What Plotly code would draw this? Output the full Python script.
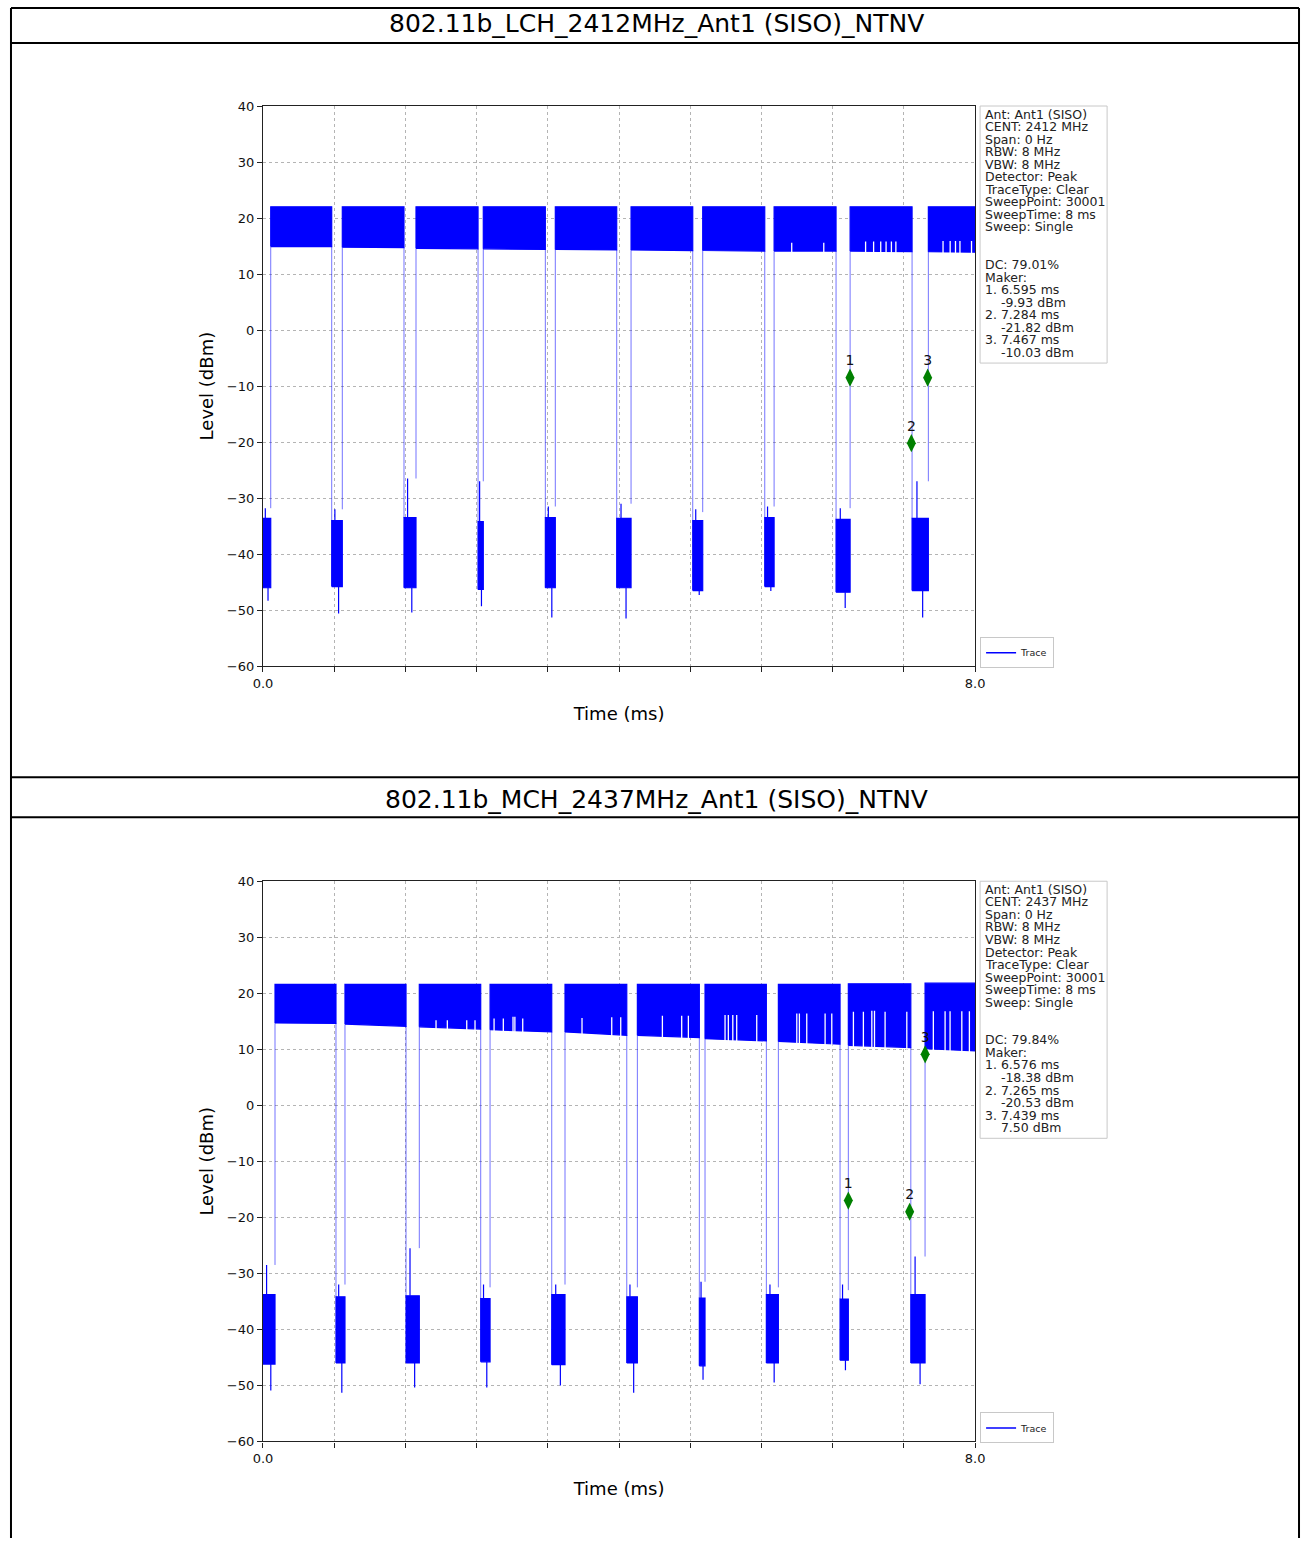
import plotly.graph_objects as go

W, H = 1310, 1546
PANEL_OFFSET = 775  # vertical pixel offset of the second panel (reference pixels)

# ---------------- data ----------------
titles = ["802.11b_LCH_2412MHz_Ant1 (SISO)_NTNV", "802.11b_MCH_2437MHz_Ant1 (SISO)_NTNV"]
center_freq = ["2412 MHz", "2437 MHz"]
duty_cycle = ["79.01%", "79.84%"]

# panel 1 (LCH) bursts, ms / dBm
p1_burst_start = [0.087, 0.891, 1.719, 2.475, 3.284, 4.135, 4.940, 5.742, 6.596, 7.475]
p1_burst_end = [0.772, 1.584, 2.416, 3.172, 3.974, 4.828, 5.637, 6.438, 7.292, 8.0]
p1_high_top = [22.0, 22.0, 22.0, 22.0, 22.0, 22.0, 22.0, 22.0, 22.0, 22.0]
p1_floor_start = [14.9, 14.8, 14.6, 14.5, 14.4, 14.3, 14.2, 14.1, 14.1, 14.0]
p1_floor_end = [14.9, 14.7, 14.5, 14.4, 14.3, 14.2, 14.1, 14.1, 14.0, 13.9]
# noise clusters between bursts (first one before the first burst)
p1_low_max = [-31.8, -32.0, -26.5, -27.0, -31.5, -31.0, -32.5, -31.5, -31.8, -27.0]
p1_low_top = [-33.6, -34.0, -33.5, -34.2, -33.5, -33.6, -34.0, -33.5, -33.8, -33.6]
p1_low_bottom = [-46.0, -45.8, -46.0, -46.3, -46.0, -46.0, -46.5, -45.8, -46.8, -46.5]
p1_low_min = [-48.3, -50.6, -50.4, -49.3, -51.3, -51.5, -47.3, -46.6, -49.6, -51.3]
# short dips inside the bursts (ms) and how high they reach (dBm)
p1_notch_time = [5.94, 6.30, 6.77, 6.86, 6.94, 7.00, 7.06, 7.11, 7.64, 7.72, 7.78, 7.83, 7.96]
p1_notch_top = [15.6, 15.6, 15.8, 15.8, 15.8, 15.8, 15.8, 15.8, 15.9, 15.9, 15.9, 15.9, 15.9]
p1_marker_time = [6.595, 7.284, 7.467]
p1_marker_value = [-9.93, -21.82, -10.03]
p1_marker_plot = [-8.5, -20.2, -8.5]

# panel 2 (MCH)
p2_burst_start = [0.135, 0.921, 1.756, 2.551, 3.393, 4.206, 4.966, 5.790, 6.576, 7.438]
p2_burst_end = [0.820, 1.607, 2.446, 3.244, 4.087, 4.902, 5.655, 6.483, 7.278, 8.0]
p2_high_top = [21.6, 21.6, 21.6, 21.6, 21.6, 21.6, 21.6, 21.6, 21.7, 21.8]
p2_floor_start = [14.7, 14.5, 14.0, 13.5, 13.1, 12.5, 11.9, 11.4, 10.7, 10.1]
p2_floor_end = [14.6, 14.1, 13.6, 13.1, 12.5, 12.1, 11.5, 10.9, 10.3, 9.7]
p2_low_max = [-28.5, -32.0, -25.5, -32.5, -32.0, -32.5, -31.5, -32.5, -33.0, -27.0]
p2_low_top = [-33.8, -34.2, -34.0, -34.5, -33.8, -34.2, -34.4, -33.8, -34.6, -33.8]
p2_low_bottom = [-46.2, -46.0, -46.0, -45.8, -46.3, -46.0, -46.5, -46.0, -45.5, -46.0]
p2_low_min = [-50.9, -51.3, -50.4, -50.4, -50.0, -51.3, -49.0, -49.5, -47.3, -49.8]
p2_notch_time = [1.944, 2.071, 2.289, 2.382, 2.596, 2.700, 2.809, 2.830, 2.918, 3.584,
                 3.918, 4.019, 4.487, 4.704, 4.779, 5.191, 5.228, 5.278, 5.322, 5.547,
                 5.997, 6.026, 6.109, 6.315, 6.390, 6.633, 6.745, 6.840, 6.870, 6.989,
                 7.233, 7.531, 7.663, 7.719, 7.851, 7.936]
p2_notch_top = [15.2, 15.2, 15.2, 15.2, 15.5, 15.5, 15.8, 15.8, 15.5, 15.6,
                15.7, 15.7, 16.0, 16.0, 16.0, 16.1, 16.1, 16.1, 16.1, 16.1,
                16.4, 16.4, 16.4, 16.4, 16.4, 16.7, 16.7, 16.9, 16.9, 16.7,
                16.7, 16.8, 16.8, 16.8, 16.8, 16.8]
p2_marker_time = [6.576, 7.265, 7.439]
p2_marker_value = [-18.38, -20.53, 7.50]
p2_marker_plot = [-17.0, -19.0, 9.1]

marker_labels = ["1", "2", "3"]
x_tick_values = [0.0, 0.8, 1.6, 2.4, 3.2, 4.0, 4.8, 5.6, 6.4, 7.2, 8.0]
x_tick_text = ["0.0", "", "", "", "", "", "", "", "", "", "8.0"]
y_tick_values = [40, 30, 20, 10, 0, -10, -20, -30, -40, -50, -60]

panels = [
    dict(start=p1_burst_start, end=p1_burst_end, top=p1_high_top, fs=p1_floor_start,
         fe=p1_floor_end, lx=p1_low_max, lt=p1_low_top, lb=p1_low_bottom, lm=p1_low_min,
         nt=p1_notch_time, nv=p1_notch_top,
         mt=p1_marker_time, mv=p1_marker_value, mp=p1_marker_plot),
    dict(start=p2_burst_start, end=p2_burst_end, top=p2_high_top, fs=p2_floor_start,
         fe=p2_floor_end, lx=p2_low_max, lt=p2_low_top, lb=p2_low_bottom, lm=p2_low_min,
         nt=p2_notch_time, nv=p2_notch_top,
         mt=p2_marker_time, mv=p2_marker_value, mp=p2_marker_plot),
]

FONT = "DejaVu Sans, Liberation Sans, Arial"
BLUE = "#0000ff"

# capture calibration (screen px -> figure px)
SX, PADX, SY, PADY = 0.9846, 10.2, 0.990, 7.1


def fx(x):
    return min(max(x / SX - PADX, 1.0), W - 1.0)


def fy(y):
    return min(max(y / SY - PADY, 1.0), H - 1.0)


def px(x):
    return fx(x) / W


def py(y):
    return 1 - fy(y) / H


def floor_at(p, t):
    for k in range(len(p["start"])):
        s, e = p["start"][k], p["end"][k]
        if s <= t <= e:
            return p["fs"][k] + (p["fe"][k] - p["fs"][k]) * (t - s) / (e - s)
    return None


fig = go.Figure()
shapes = []
annotations = []

for i, p in enumerate(panels):
    off = i * PANEL_OFFSET
    xa = "x" if i == 0 else "x2"
    ya = "y" if i == 0 else "y2"
    leg = "legend" if i == 0 else "legend2"

    # ----- polygons: bursts and noise clusters -----
    xs, ys = [], []
    n = len(p["start"])
    for k in range(n):
        s, e = p["start"][k], p["end"][k]
        xs += [s, s, e, e, s, None]
        ys += [p["fs"][k], p["top"][k], p["top"][k], p["fe"][k], p["fs"][k], None]
    gaps_a = [0.0] + p["end"][:-1]
    gaps_b = p["start"]
    for k in range(n):
        a, b = gaps_a[k], gaps_b[k]
        xs += [a, a, b, b, a, None]
        ys += [p["lb"][k], p["lt"][k], p["lt"][k], p["lb"][k], p["lb"][k], None]
    fig.add_trace(go.Scatter(x=xs, y=ys, mode="lines", fill="toself", fillcolor=BLUE,
                             line=dict(color=BLUE, width=1.2), showlegend=False,
                             hoverinfo="skip", xaxis=xa, yaxis=ya))

    # ----- white dips inside bursts -----
    nx, ny = [], []
    for t, v in zip(p["nt"], p["nv"]):
        f = floor_at(p, t)
        if f is None:
            continue
        nx += [t, t, None]
        ny += [f - 0.4, v, None]
    fig.add_trace(go.Scatter(x=nx, y=ny, mode="lines", line=dict(color="white", width=1.3),
                             showlegend=False, hoverinfo="skip", xaxis=xa, yaxis=ya))

    # ----- transition edges -----
    ex, ey = [], []
    for k in range(n):
        s, e = p["start"][k], p["end"][k]
        ex += [s, s, None]
        ey += [p["lx"][k], p["fs"][k], None]
        if k + 1 < n:
            ex += [e, e, None]
            ey += [p["fe"][k], p["lt"][k + 1], None]
    fig.add_trace(go.Scatter(x=ex, y=ey, mode="lines", line=dict(color="rgba(0,0,255,0.55)", width=1),
                             showlegend=False, hoverinfo="skip", xaxis=xa, yaxis=ya))

    # ----- noise spikes (up and down) -----
    sx, sy = [], []
    for k in range(n):
        a, b = gaps_a[k], gaps_b[k]
        q1 = a + (b - a) * 0.3
        q2 = a + (b - a) * 0.65
        sx += [q1, q1, None, q2, q2, None]
        sy += [p["lt"][k], max(p["lx"][k], -32.0), None, p["lb"][k], p["lm"][k], None]
    fig.add_trace(go.Scatter(x=sx, y=sy, mode="lines", line=dict(color=BLUE, width=1.2),
                             showlegend=False, hoverinfo="skip", xaxis=xa, yaxis=ya))

    # ----- legend entry -----
    fig.add_trace(go.Scatter(x=[None], y=[None], mode="lines", name="Trace",
                             line=dict(color=BLUE, width=1.5), legend=leg, xaxis=xa, yaxis=ya))

    # ----- markers -----
    fig.add_trace(go.Scatter(x=p["mt"], y=p["mp"], mode="markers+text", text=marker_labels,
                             textposition="top center",
                             textfont=dict(family=FONT, size=14, color="#111"),
                             marker=dict(symbol="diamond-tall", size=13, color="#008000",
                                         line=dict(width=0)),
                             showlegend=False, hoverinfo="skip", xaxis=xa, yaxis=ya))

    # ----- title row -----
    annotations.append(dict(text=titles[i], x=px(656), y=py(24 + off),
                            xref="paper", yref="paper", showarrow=False, xanchor="center",
                            yanchor="middle", font=dict(family=FONT, size=25, color="#000")))

    # ----- info box -----
    lines = ["Ant: Ant1 (SISO)", "CENT: " + center_freq[i], "Span: 0 Hz", "RBW: 8 MHz",
             "VBW: 8 MHz", "Detector: Peak", "TraceType: Clear", "SweepPoint: 30001",
             "SweepTime: 8 ms", "Sweep: Single", "", "", "DC: " + duty_cycle[i], "Maker:"]
    for m in range(len(p["mt"])):
        lines.append(f"{m + 1}. {p['mt'][m]:.3f} ms")
        lines.append("\u00a0\u00a0\u00a0\u00a0" + f"{p['mv'][m]:.2f} dBm")
    for li, t in enumerate(lines):
        if not t:
            continue
        annotations.append(dict(text=t, x=px(983), y=py(114 + off + li * 12.55), xref="paper",
                                yref="paper", showarrow=False, xanchor="left", yanchor="middle",
                                font=dict(family=FONT, size=12.5, color="#222")))
    shapes.append(dict(type="rect", xref="paper", yref="paper", x0=px(980), x1=px(1107),
                       y0=py(363 + off), y1=py(106 + off), line=dict(color="#c8c8c8", width=1),
                       fillcolor="rgba(255,255,255,0.8)", layer="above"))

# ----- table borders -----
for y in [3, 43, 777, 817]:
    shapes.append(dict(type="line", xref="paper", yref="paper", x0=px(8), x1=px(1303),
                       y0=py(y), y1=py(y), line=dict(color="#000", width=2)))
for x in [8, 1303]:
    shapes.append(dict(type="line", xref="paper", yref="paper", x0=px(x), x1=px(x),
                       y0=py(3), y1=0, line=dict(color="#000", width=2)))

axis_common = dict(showline=True, mirror=True, linecolor="#222", linewidth=1.2,
                   ticks="outside", ticklen=5, tickcolor="#222", showgrid=True,
                   gridcolor="#b4b4b4", griddash="3px,3px", gridwidth=0.8, zeroline=False,
                   tickfont=dict(family=FONT, size=13, color="#111"))

xdom = [px(263), px(975)]
layout = dict(
    width=W, height=H, margin=dict(l=0, r=0, t=0, b=0), autosize=False,
    paper_bgcolor="white", plot_bgcolor="white",
    shapes=shapes, annotations=annotations,
)
for i in range(2):
    off = i * PANEL_OFFSET
    xk = "xaxis" if i == 0 else "xaxis2"
    yk = "yaxis" if i == 0 else "yaxis2"
    layout[xk] = dict(axis_common, domain=xdom, range=[0, 8], tickmode="array",
                      tickvals=x_tick_values, ticktext=x_tick_text,
                      anchor="y" if i == 0 else "y2",
                      title=dict(text="Time (ms)", font=dict(family=FONT, size=18, color="#000"),
                                 standoff=17))
    layout[yk] = dict(axis_common, domain=[py(666 + off), py(106 + off)], range=[-60, 40],
                      tickmode="array", tickvals=y_tick_values,
                      anchor="x" if i == 0 else "x2",
                      title=dict(text="Level (dBm)", font=dict(family=FONT, size=18, color="#000"),
                                 standoff=8))
    lk = "legend" if i == 0 else "legend2"
    layout[lk] = dict(x=px(980), y=py(668 + off), xanchor="left", yanchor="bottom",
                      bgcolor="white", bordercolor="#c8c8c8", borderwidth=1,
                      font=dict(family=FONT, size=9.5, color="#222"), itemwidth=30,
                      tracegroupgap=0)

fig.update_layout(**layout)
fig.write_html("out.html", config={"displayModeBar": False},
               post_script="document.body.style.margin='0px';document.body.style.overflow='hidden';")
